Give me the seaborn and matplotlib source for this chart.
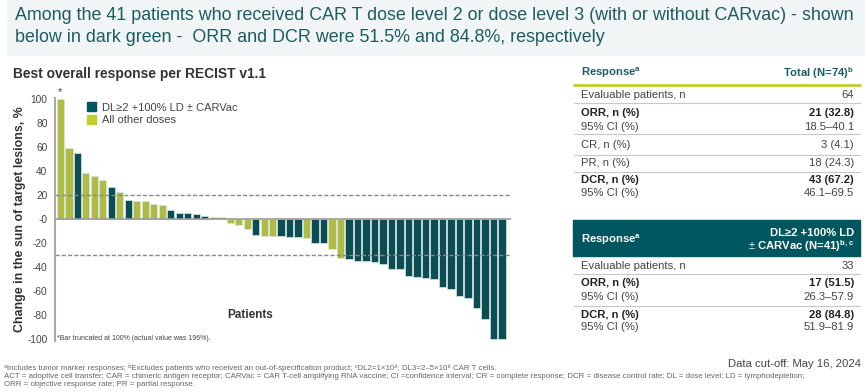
import pandas as pd
import matplotlib
matplotlib.use("Agg")
import matplotlib.pyplot as plt
from matplotlib.patches import Rectangle, Patch
from matplotlib.lines import Line2D
import seaborn as sns

sns.set_theme(style="white")
plt.rcParams["font.family"] = ["Liberation Sans", "DejaVu Sans"]
plt.rcParams["mathtext.fontset"] = "custom"
plt.rcParams["mathtext.rm"] = "Liberation Sans"
plt.rcParams["mathtext.bf"] = "Liberation Sans:bold"

change = [100, 59.7, 55.5, 38.3, 36.4, 32.8, 27.2, 23, 15.8, 15.3, 15.3, 12.5, 12, 7.5,
          5, 5, 4.2, 2.5, 1.9, 1.7, -2.8, -5, -8, -12.8, -13.9, -13.9, -14, -14.4, -14.4,
          -15.8, -20, -20, -25, -32.5, -33, -34.4, -35, -35.8, -37, -41.4, -41.4, -47.5,
          -48, -49.2, -50, -56, -58.3, -64, -65.8, -74, -83.3, -100, -100]
group = list("LLTLLLTLTLLLLTTTTTLLLLLTLLTTTLTTLL") + ["T"] * 19
group_names = {"T": "DL\u22652 +100% LD \u00b1 CARVac", "L": "All other doses"}
yticks = [100, 80, 60, 40, 20, 0, -20, -40, -60, -80, -100]
ytick_labels = ["100", "80", "60", "40", "20", "-0", "-20", "-40", "-60", "-80", "-100"]

tbl1_rows = [("Evaluable patients, n", "64", False), ("ORR, n (%)", "21 (32.8)", True),
             ("95% CI (%)", "18.5\u201340.1", False), ("CR, n (%)", "3 (4.1)", False),
             ("PR, n (%)", "18 (24.3)", False), ("DCR, n (%)", "43 (67.2)", True),
             ("95% CI (%)", "46.1\u201369.5", False)]
tbl1_y = [95, 113, 127, 145, 163, 180, 193]
tbl1_lines = [103.5, 134.5, 155, 171.5]
tbl2_rows = [("Evaluable patients, n", "33", False), ("ORR, n (%)", "17 (51.5)", True),
             ("95% CI (%)", "26.3\u201357.9", False), ("DCR, n (%)", "28 (84.8)", True),
             ("95% CI (%)", "51.9\u201381.9", False)]
tbl2_y = [266, 283.5, 297.5, 315, 327.5]
tbl2_lines = [273.5, 306]

TEAL = "#00565f"
LIME = "#bfcf30"
GREY = "#444444"
W, H = 865, 392
FS = 8.1

def fx(x):
    return x / W

def fy(y):
    return 1 - y / H

df = pd.DataFrame({"patient": range(len(change)), "change": change,
                   "group": [group_names[g] for g in group]})

fig = plt.figure(figsize=(W / 100, H / 100), dpi=100)

# banner
fig.add_artist(Rectangle((fx(7), fy(55)), fx(858), 55 / H, transform=fig.transFigure,
                         color="#f2f5f5", zorder=0))
fig.text(fx(15), fy(15), "Among the 41 patients who received CAR T dose level 2 or dose level 3 "
         "(with or without CARvac) - shown", color="#1d5d62", fontsize=12.9, va="center")
fig.text(fx(15), fy(37), "below in dark green -  ORR and DCR were 51.5% and 84.8%, respectively",
         color="#1d5d62", fontsize=12.9, va="center")

# waterfall
ax = fig.add_axes([fx(54.5), fy(341), (511 - 54.5) / W, (341 - 98) / H])
sns.barplot(data=df, x="patient", y="change", hue="group",
            palette={group_names["T"]: TEAL, group_names["L"]: LIME},
            dodge=False, width=0.86, edgecolor="#d5e8e8", linewidth=0.5,
            legend=False, ax=ax)
ax.set_xlim(-0.69, 53.07)
ax.set_ylim(-101.4, 101.1)
ax.axhline(0, color="#999999", lw=1.2, zorder=3)
ax.axhline(20, color="#888888", lw=1, ls=(0, (3, 1.5)), zorder=3)
ax.axhline(-30, color="#888888", lw=1, ls=(0, (3, 1.5)), zorder=3)
ax.set_yticks(yticks)
ax.set_yticklabels(ytick_labels, fontsize=7.3, color=GREY)
ax.tick_params(axis="y", length=0, pad=5)
ax.set_xticks([])
ax.set_xlabel("")
ax.set_ylabel("")
for s in ["top", "right", "bottom"]:
    ax.spines[s].set_visible(False)
ax.spines["left"].set_color("#aaaaaa")
ax.spines["left"].set_linewidth(1.5)
ax.set_facecolor("none")
ax.text(0, 102, "*", ha="center", va="bottom", fontsize=8, color=GREY, clip_on=False)
handles = [Patch(color=TEAL, label=group_names["T"]), Patch(color=LIME, label=group_names["L"])]
ax.legend(handles=handles, loc="upper left", bbox_to_anchor=((83 - 54.5) / (511 - 54.5), 1.0),
          frameon=False, fontsize=8, handlelength=0.8, handleheight=0.8, handletextpad=0.5,
          labelspacing=0.25, labelcolor=GREY, borderaxespad=0)

fig.text(fx(13), fy(74), "Best overall response per RECIST v1.1", fontsize=9.9,
         fontweight="bold", color="#333333", va="center")
fig.text(fx(20), fy(219), "Change in the sun of target lesions, %", rotation=90, fontsize=8.9,
         fontweight="bold", color="#333333", va="center", ha="center")
fig.text(fx(250), fy(315), "Patients", fontsize=8.5, fontweight="bold", color="#333333",
         ha="center", va="center")
fig.text(fx(57), fy(338), "*Bar truncated at 100% (actual value was 196%).", fontsize=5,
         color=GREY, va="center")

# table 1
fig.text(fx(581), fy(73), r"Response$^{\mathbf{a}}$", fontsize=FS, fontweight="bold",
         color="#1d5d62", va="center")
fig.text(fx(854), fy(73), r"Total (N=74)$^{\mathbf{b}}$", fontsize=FS, fontweight="bold",
         color="#1d5d62", va="center", ha="right")
fig.add_artist(Line2D([fx(574), fx(860)], [fy(85), fy(85)], color=LIME, lw=2))
for (lab, val, bold), y in zip(tbl1_rows, tbl1_y):
    w = "bold" if bold else "normal"
    c = "#222222" if bold else GREY
    fig.text(fx(581), fy(y), lab, fontsize=FS, fontweight=w, color=c, va="center")
    fig.text(fx(854), fy(y), val, fontsize=FS, fontweight=w, color=c, va="center", ha="right")
for y in tbl1_lines:
    fig.add_artist(Line2D([fx(574), fx(860)], [fy(y), fy(y)], color="#c8c8c8", lw=0.8))

# table 2
fig.add_artist(Rectangle((fx(573), fy(256)), (860 - 573) / W, 36 / H, transform=fig.transFigure,
                         color=TEAL, zorder=1))
fig.text(fx(581), fy(240), r"Response$^{\mathbf{a}}$", fontsize=FS, fontweight="bold",
         color="white", va="center")
fig.text(fx(854), fy(233), "DL\u22652 +100% LD", fontsize=FS, fontweight="bold", color="white",
         va="center", ha="right")
fig.text(fx(854), fy(246.5), r"$\pm$ CARVac (N=41)$^{\mathbf{b,c}}$", fontsize=FS,
         fontweight="bold", color="white", va="center", ha="right")
for (lab, val, bold), y in zip(tbl2_rows, tbl2_y):
    w = "bold" if bold else "normal"
    c = "#222222" if bold else GREY
    fig.text(fx(581), fy(y), lab, fontsize=FS, fontweight=w, color=c, va="center")
    fig.text(fx(854), fy(y), val, fontsize=FS, fontweight=w, color=c, va="center", ha="right")
for y in tbl2_lines:
    fig.add_artist(Line2D([fx(574), fx(860)], [fy(y), fy(y)], color="#c8c8c8", lw=0.8))

fig.text(fx(861), fy(364), "Data cut-off: May 16, 2024", fontsize=FS, color=GREY,
         va="center", ha="right")

foot = ["\u1d43Includes tumor marker responses; \u1d47Excludes patients who received an "
        "out-of-specification product; \u1d9cDL2=1\u00d710\u2078; DL3=2\u20135\u00d710\u2078 CAR T cells.",
        "ACT = adoptive cell transfer; CAR = chimeric antigen receptor; CARVac = CAR T-cell amplifying RNA "
        "vaccine; CI =confidence interval; CR = complete response; DCR = disease control rate; DL = dose level; "
        "LD = lymphodepletion;",
        "ORR = objective response rate; PR = partial response."]
for i, t in enumerate(foot):
    fig.text(fx(4), fy(369.5 + 8.5 * i), t, fontsize=5.7, color="#666666", va="baseline")

fig.savefig("out.png", dpi=100)
